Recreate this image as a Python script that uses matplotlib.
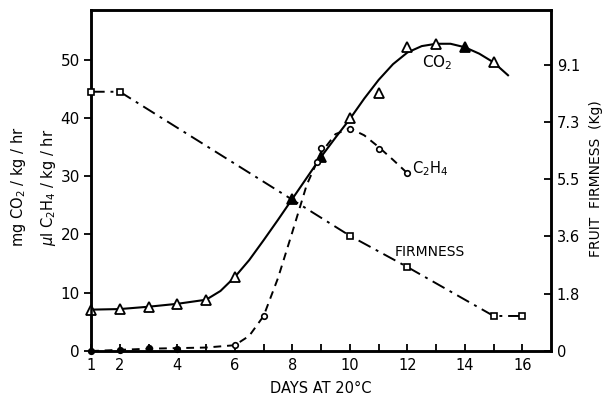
import matplotlib
matplotlib.use('Agg')
import matplotlib.pyplot as plt

# measured points
co2_days = [1, 2, 3, 4, 5, 6, 8, 9, 10, 11, 12, 13, 14, 15]
co2_vals = [7.1, 7.2, 7.6, 8.1, 8.7, 12.7, 26.1, 33.2, 39.9, 44.3, 52.1, 52.7, 52.1, 49.5]
co2_filled = [8, 9, 14]

# smooth curve drawn by hand through the CO2 points
co2_curve_days = [1, 2, 3, 4, 5, 5.5, 6, 6.5, 7, 7.5, 8, 8.5, 9, 9.5, 10, 10.5, 11,
                  11.5, 12, 12.5, 13, 13.5, 14, 14.5, 15, 15.5]
co2_curve_vals = [7.1, 7.2, 7.6, 8.1, 8.8, 10.3, 12.7, 15.6, 19.0, 22.5, 26.1, 29.7,
                  33.3, 36.6, 39.8, 43.3, 46.5, 49.2, 51.2, 52.3, 52.7, 52.7, 52.1,
                  51.0, 49.5, 47.3]

c2h4_days = [1, 2, 3, 4, 6, 7, 8.85, 9, 10, 11, 12]
c2h4_vals = [0.0, 0.2, 0.5, 0.4, 1.0, 6.0, 32.4, 34.8, 38.1, 34.7, 30.5]
c2h4_filled = [1, 2, 3, 4]

c2h4_curve_days = [1, 2, 3, 4, 5, 6, 6.5, 7, 7.5, 8, 8.5, 9, 9.5, 10, 10.5, 11, 11.5, 12]
c2h4_curve_vals = [0.0, 0.2, 0.4, 0.5, 0.6, 1.0, 2.6, 6.0, 12.5, 20.4, 28.5, 34.0,
                   37.2, 38.2, 37.0, 35.0, 32.8, 30.5]

firm_days = [1, 2, 8, 10, 12, 15, 16]
firm_kg = [8.21, 8.21, 4.79, 3.65, 2.66, 1.11, 1.11]

x_ticks = list(range(1, 17))
x_labels = ['1', '2', '', '4', '', '6', '', '8', '', '10', '', '12', '', '14', '', '16']
y_ticks = [0, 10, 20, 30, 40, 50]
firm_ticks = [1.814, 3.629, 5.443, 7.257, 9.072]
firm_labels = ['1.8', '3.6', '5.5', '7.3', '9.1']

fig = plt.figure(figsize=(6.07, 3.98), dpi=100)
ax = fig.add_axes([0.150, 0.118, 0.758, 0.857])
ax2 = ax.twinx()

# CO2
ax.plot(co2_curve_days, co2_curve_vals, color='black', lw=1.5, clip_on=False)
for d, v in zip(co2_days, co2_vals):
    face = 'black' if d in co2_filled else 'white'
    ax.plot(d, v, marker='^', ms=7, mfc=face, mec='black', mew=1.3, clip_on=False, zorder=5)

# C2H4
ax.plot(c2h4_curve_days, c2h4_curve_vals, color='black', lw=1.4, dashes=(4, 3), clip_on=False)
for d, v in zip(c2h4_days, c2h4_vals):
    face = 'black' if d in c2h4_filled else 'white'
    ax.plot(d, v, marker='o', ms=4, mfc=face, mec='black', mew=1.2, clip_on=False, zorder=5)

# firmness
ax2.plot(firm_days, firm_kg, color='black', lw=1.4, dashes=(7, 3, 1.5, 3), clip_on=False)
ax2.plot([d for d in firm_days if d != 8], [v for d, v in zip(firm_days, firm_kg) if d != 8],
         ls='none', marker='s', ms=4.5, mfc='white', mec='black', mew=1.2, clip_on=False, zorder=5)

ax.set_xlim(1, 17)
ax.set_ylim(0, 58.5)
ax2.set_ylim(0, 10.8)

ax.set_xticks(x_ticks)
ax.set_xticklabels(x_labels, fontsize=10.5)
ax.set_yticks(y_ticks)
ax.set_yticklabels([str(v) for v in y_ticks], fontsize=11)
ax.tick_params(axis='x', direction='in', length=5, width=1.3, top=False, pad=5)
ax.tick_params(axis='y', direction='out', length=5, width=1.3, pad=3)
ax2.set_yticks([0] + firm_ticks)
ax2.set_yticklabels(['0'] + firm_labels, fontsize=10.5)
ax2.tick_params(axis='y', direction='in', length=5, width=1.3, pad=4)

for a in (ax, ax2):
    for s in a.spines.values():
        s.set_linewidth(1.8)

ax.set_xlabel('DAYS AT 20°C', fontsize=10.5, labelpad=6)
fig.text(0.982, 0.55, 'FRUIT  FIRMNESS  (Kg)', rotation=90, ha='center', va='center', fontsize=10)
fig.text(0.030, 0.53, r'mg CO$_2$ / kg / hr', rotation=90, ha='center', va='center', fontsize=10.5)
fig.text(0.080, 0.53, r'$\mu$l C$_2$H$_4$ / kg / hr', rotation=90, ha='center', va='center', fontsize=10.5)

ax.text(12.5, 49.4, r'CO$_2$', fontsize=11, ha='left', va='center')
ax.text(12.15, 31.3, r'C$_2$H$_4$', fontsize=10.5, ha='left', va='center')
ax.text(11.55, 17.0, 'FIRMNESS', fontsize=10, ha='left', va='center')

fig.savefig('out.png', dpi=100)
